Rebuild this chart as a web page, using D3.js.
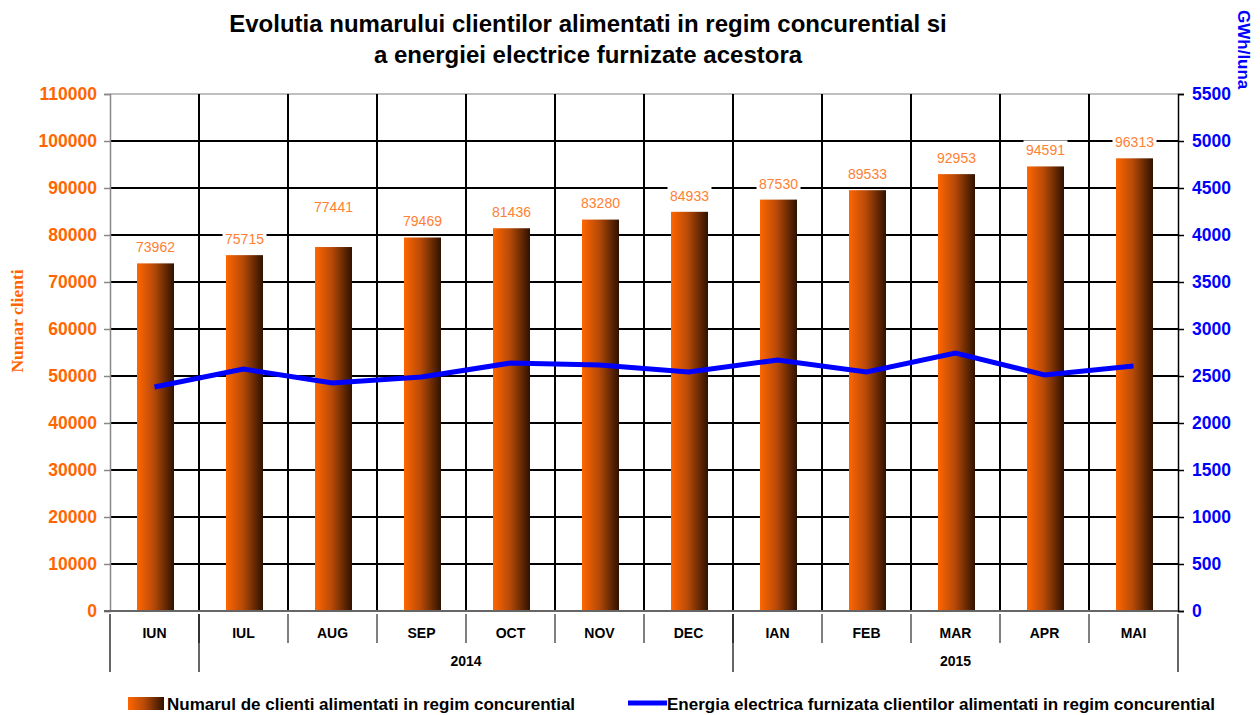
<!DOCTYPE html>
<html lang="ro">
<head>
<meta charset="UTF-8">
<title>Evolutia numarului clientilor</title>
<script src="https://cdn.jsdelivr.net/npm/d3@7/dist/d3.min.js"></script>
<style>
  body { margin: 0; background: #fff; }
  svg { display: block; font-family: Arial, "Liberation Sans", sans-serif; }
</style>
</head>
<body>
<svg id="chart" width="1260" height="715"></svg>
<script>
// data
var months = ["IUN", "IUL", "AUG", "SEP", "OCT", "NOV", "DEC", "IAN", "FEB", "MAR", "APR", "MAI"];
var clienti = [73962, 75715, 77441, 79469, 81436, 83280, 84933, 87530, 89533, 92953, 94591, 96313];
var energie = [2383, 2574, 2425, 2489, 2638, 2617, 2542, 2670, 2542, 2745, 2511, 2606];
var yearGroups = [
  { label: "", from: "IUN", to: "IUN" },
  { label: "2014", from: "IUL", to: "DEC" },
  { label: "2015", from: "IAN", to: "MAI" }
];
var leftTicks = d3.range(0, 110001, 10000);
var rightTicks = d3.range(0, 5501, 500);

var orange = "#FF6600", blue = "#0000FF";
var svg = d3.select("#chart");

var margin = { top: 94, right: 82, bottom: 104, left: 110 },
    width = 1260 - margin.left - margin.right,
    height = 715 - margin.top - margin.bottom;

var defs = svg.append("defs");
var grad = defs.append("linearGradient").attr("id", "barGrad")
    .attr("x1", "0%").attr("x2", "100%").attr("y1", "0%").attr("y2", "0%");
grad.append("stop").attr("offset", "0%").attr("stop-color", "#FF6600");
grad.append("stop").attr("offset", "45%").attr("stop-color", "#B84A08");
grad.append("stop").attr("offset", "100%").attr("stop-color", "#2E1200");

var g = svg.append("g").attr("transform", "translate(" + margin.left + "," + margin.top + ")");

var x = d3.scaleBand().domain(months).range([0, width]).paddingInner(0).paddingOuter(0);
var yL = d3.scaleLinear().domain([0, 110000]).range([height, 0]);
var yR = d3.scaleLinear().domain([0, 5500]).range([height, 0]);

// horizontal grid
g.append("g").selectAll("line").data(leftTicks.filter(d => d > 0 && d < 110000)).enter().append("line")
  .attr("x1", 0).attr("x2", width)
  .attr("y1", d => yL(d)).attr("y2", d => yL(d))
  .attr("stroke", "#000").attr("stroke-width", 2);
// top border
g.append("line").attr("x1", 0).attr("x2", width).attr("y1", 0).attr("y2", 0)
  .attr("stroke", "#aaa").attr("stroke-width", 1.5);

// vertical grid at category boundaries
g.append("g").selectAll("line").data(months.slice(1)).enter().append("line")
  .attr("x1", d => x(d)).attr("x2", d => x(d))
  .attr("y1", 0).attr("y2", height)
  .attr("stroke", "#000").attr("stroke-width", 2);

// left axis
var axL = g.append("g").call(d3.axisLeft(yL).tickValues(leftTicks).tickSize(6).tickPadding(7).tickFormat(d3.format("d")));
axL.select(".domain").attr("stroke", "#888").attr("stroke-width", 1.5);
axL.selectAll(".tick line").attr("stroke", "#888").attr("stroke-width", 1.5);
axL.selectAll("text").attr("fill", orange).style("font-size", "17.5px").style("font-weight", "bold");

// right axis
var axR = g.append("g").attr("transform", "translate(" + width + ",0)")
  .call(d3.axisRight(yR).tickValues(rightTicks).tickSize(6).tickPadding(8).tickFormat(d3.format("d")));
axR.select(".domain").attr("stroke", "#000").attr("stroke-width", 1.5);
axR.selectAll(".tick line").attr("stroke", "#000").attr("stroke-width", 1.5);
axR.selectAll("text").attr("fill", blue).style("font-size", "17.5px").style("font-weight", "bold");

// bars
var barW = 37;
g.append("g").selectAll("rect").data(months).enter().append("rect")
  .attr("x", (d) => x(d) + x.bandwidth() / 2 - barW / 2 + 1)
  .attr("y", (d, i) => yL(clienti[i]))
  .attr("width", barW)
  .attr("height", (d, i) => height - yL(clienti[i]))
  .attr("fill", "url(#barGrad)");

// x axis line
g.append("line").attr("x1", -6).attr("x2", width).attr("y1", height).attr("y2", height)
  .attr("stroke", "#666").attr("stroke-width", 2);

// line series
var line = d3.line().x((d, i) => x(months[i]) + x.bandwidth() / 2).y(d => yR(d));
g.append("path").datum(energie).attr("d", line)
  .attr("fill", "none").attr("stroke", blue).attr("stroke-width", 5).attr("stroke-linejoin", "miter");

// data labels with white background (AUG label sits higher in the original)
var labels = g.append("g").selectAll("g").data(months).enter().append("g")
  .attr("transform", (d, i) => "translate(" + (x(d) + x.bandwidth() / 2 + 1) + "," +
        (yL(clienti[i]) - (d === "AUG" ? 40 : 16)) + ")");
labels.append("rect").attr("x", -22).attr("y", -10).attr("width", 44).attr("height", 19).attr("fill", "#fff");
labels.append("text").attr("text-anchor", "middle").attr("dy", "0.35em")
  .attr("fill", "#FF8033").style("font-size", "14px")
  .text((d, i) => clienti[i]);

// x axis category labels and ticks
var xa = g.append("g").attr("transform", "translate(0," + height + ")");
xa.selectAll("text.m").data(months).enter().append("text").attr("class", "m")
  .attr("x", d => x(d) + x.bandwidth() / 2).attr("y", 27)
  .attr("text-anchor", "middle").style("font-size", "14px").style("font-weight", "bold")
  .text(d => d);
xa.selectAll("line.t").data(months.slice(1)).enter().append("line").attr("class", "t")
  .attr("x1", d => x(d)).attr("x2", d => x(d)).attr("y1", 3).attr("y2", 32)
  .attr("stroke", "#000").attr("stroke-width", 1);

// year group ticks and labels
var groupEdges = [0].concat(yearGroups.map(gr => x(gr.to) + x.bandwidth()));
xa.selectAll("line.gt").data(groupEdges).enter().append("line").attr("class", "gt")
  .attr("x1", d => d).attr("x2", d => d).attr("y1", 3).attr("y2", 61)
  .attr("stroke", "#000").attr("stroke-width", 1.2);
xa.selectAll("text.y").data(yearGroups).enter().append("text").attr("class", "y")
  .attr("x", gr => (x(gr.from) + x(gr.to) + x.bandwidth()) / 2).attr("y", 55)
  .attr("text-anchor", "middle").style("font-size", "14px").style("font-weight", "bold")
  .text(gr => gr.label);

// title
var title = svg.append("text").attr("x", 588).attr("text-anchor", "middle")
  .style("font-size", "24px").style("font-weight", "bold");
title.append("tspan").attr("x", 588).attr("y", 32).text("Evolutia numarului clientilor alimentati in regim concurential si");
title.append("tspan").attr("x", 588).attr("y", 63).text("a energiei electrice furnizate acestora");

// axis titles
svg.append("text").attr("transform", "translate(23,321) rotate(-90)").attr("text-anchor", "middle")
  .attr("fill", orange).style("font-family", "'Liberation Serif', 'Times New Roman', serif")
  .style("font-size", "17.5px").style("font-weight", "bold").text("Numar clienti");
svg.append("text").attr("transform", "translate(1238,10) rotate(90)").attr("text-anchor", "start")
  .attr("fill", blue).style("font-size", "17px").style("font-weight", "bold").text("GWh/luna");

// legend
var lg = svg.append("g");
lg.append("rect").attr("x", 128).attr("y", 697).attr("width", 36).attr("height", 13).attr("fill", "url(#barGrad)");
lg.append("text").attr("x", 167).attr("y", 710).style("font-size", "17px").style("font-weight", "bold")
  .text("Numarul de clienti alimentati in regim concurential");
lg.append("line").attr("x1", 628).attr("x2", 667).attr("y1", 703).attr("y2", 703)
  .attr("stroke", blue).attr("stroke-width", 5);
lg.append("text").attr("x", 667).attr("y", 710).style("font-size", "17px").style("font-weight", "bold")
  .text("Energia electrica furnizata clientilor alimentati in regim concurential");
</script>
</body>
</html>
